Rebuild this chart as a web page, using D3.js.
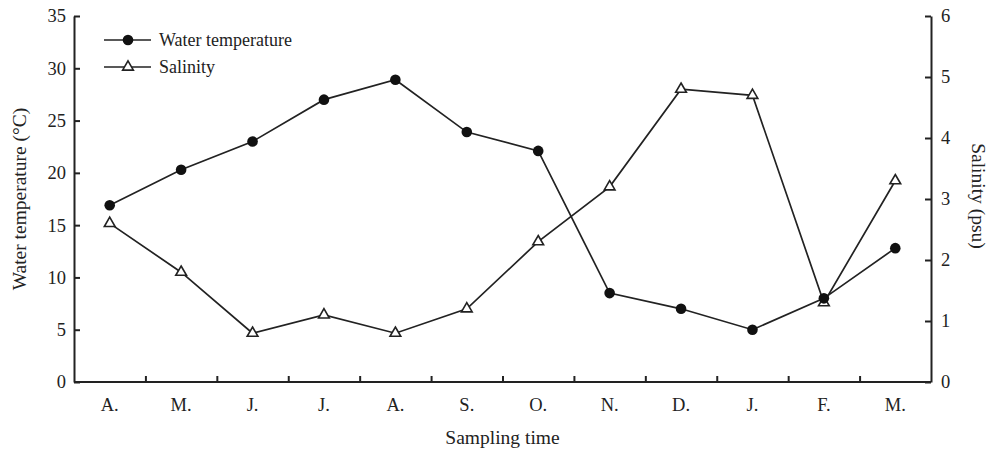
<!DOCTYPE html>
<html><head><meta charset="utf-8">
<script src="https://cdn.jsdelivr.net/npm/d3@7"></script>
<style>body{margin:0;background:#fff}svg{display:block}text{font-family:"Liberation Serif","Times New Roman",serif;fill:#222}</style>
</head><body><svg id="c" width="991" height="451"></svg>
<script>
const months = ["A.","M.","J.","J.","A.","S.","O.","N.","D.","J.","F.","M."];
const waterTemp = [16.9,20.3,23.0,27.0,28.9,23.9,22.1,8.5,7.0,5.0,8.0,12.8];
const salinity = [2.6,1.8,0.8,1.1,0.8,1.2,2.3,3.2,4.8,4.7,1.3,3.3];
const leftTicks = [0,5,10,15,20,25,30,35];
const rightTicks = [0,1,2,3,4,5,6];

const svg = d3.select("#c");
const L=74, R=931, T=16, B=382;
const idx = months.map((d,i)=>i);
const x = d3.scaleBand().domain(idx).range([L,R]);
const yL = d3.scaleLinear().domain([0,35]).range([B,T]);
const yR = d3.scaleLinear().domain([0,6]).range([B,T]);
const ink="#222";

// axes
const gl = svg.append("g").attr("transform",`translate(${L},0)`)
  .call(d3.axisLeft(yL).tickValues(leftTicks).tickFormat(d3.format("d")).tickSizeInner(-6).tickSizeOuter(0).tickPadding(8));
const gr = svg.append("g").attr("transform",`translate(${R},0)`)
  .call(d3.axisRight(yR).tickValues(rightTicks).tickFormat(d3.format("d")).tickSizeInner(-6).tickSizeOuter(0).tickPadding(10));
const boundaries = idx.slice(1);
const gb = svg.append("g").attr("transform",`translate(0,${B})`)
  .call(d3.axisBottom(d3.scaleLinear().domain([0,12]).range([L,R])).tickValues(boundaries).tickSize(-6).tickFormat(""));
svg.append("g").attr("transform",`translate(0,${B})`)
  .call(d3.axisBottom(x).tickFormat(i=>months[i]).tickSize(0).tickPadding(16))
  .call(g=>g.select(".domain").remove());
[gl,gr,gb].forEach(g=>{g.select(".domain").attr("stroke",ink).attr("stroke-width",2);g.selectAll(".tick line").attr("stroke",ink).attr("stroke-width",2);});
svg.selectAll(".tick text").attr("font-size",18.5).attr("fill",ink).style("font-family",'"Liberation Serif",serif');
gb.selectAll(".domain").attr("d",`M${L},0H${R}`);

// titles
svg.append("text").attr("transform",`translate(26,199) rotate(-90)`).attr("text-anchor","middle").attr("font-size",19.5).text("Water temperature (°C)");
svg.append("text").attr("transform",`translate(972,196) rotate(90)`).attr("text-anchor","middle").attr("font-size",19.5).text("Salinity (psu)");
svg.append("text").attr("x",(L+R)/2).attr("y",444).attr("text-anchor","middle").attr("font-size",19.5).text("Sampling time");

const cx = i=>x(i)+x.bandwidth()/2;
const tri = d3.symbol().type(d3.symbolTriangle).size(50);

// salinity line
svg.append("path").datum(salinity).attr("fill","none").attr("stroke",ink).attr("stroke-width",1.7)
  .attr("d",d3.line().x((d,i)=>cx(i)).y(d=>yR(d)));
// temp line
svg.append("path").datum(waterTemp).attr("fill","none").attr("stroke",ink).attr("stroke-width",1.7)
  .attr("d",d3.line().x((d,i)=>cx(i)).y(d=>yL(d)));
svg.selectAll(".tri").data(salinity).join("path").attr("class","tri")
  .attr("transform",(d,i)=>`translate(${cx(i)},${yR(d)})`).attr("d",tri)
  .attr("fill","#fff").attr("stroke",ink).attr("stroke-width",1.6);
svg.selectAll(".dot").data(waterTemp).join("circle").attr("class","dot")
  .attr("cx",(d,i)=>cx(i)).attr("cy",d=>yL(d)).attr("r",5.3).attr("fill","#111");

// legend
const lg = svg.append("g");
[[40,"Water temperature","c"],[67,"Salinity","t"]].forEach(([yy,label,m])=>{
  lg.append("line").attr("x1",104).attr("x2",151).attr("y1",yy).attr("y2",yy).attr("stroke",ink).attr("stroke-width",1.7);
  if(m==="c") lg.append("circle").attr("cx",128).attr("cy",yy).attr("r",5.3).attr("fill","#111");
  else lg.append("path").attr("transform",`translate(128,${yy})`).attr("d",tri).attr("fill","#fff").attr("stroke",ink).attr("stroke-width",1.6);
  lg.append("text").attr("x",159).attr("y",yy+6).attr("font-size",18).text(label);
});
</script></body></html>
